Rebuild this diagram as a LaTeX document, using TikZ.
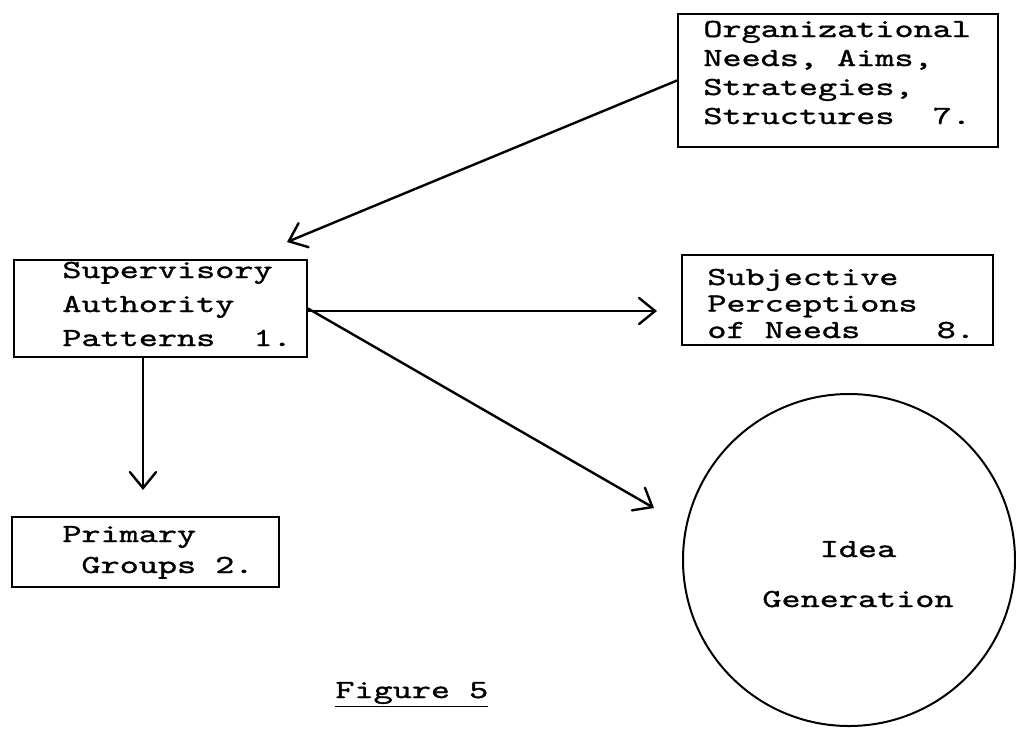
\documentclass[tikz,border=0pt]{standalone}
\usepackage{fontspec}
\usetikzlibrary{arrows.meta}
% wide, slightly heavy typewriter lettering
\newfontfamily\twfont[FakeStretch=1.4,FakeBold=1.2]{lmmono10-regular.otf}
\begin{document}
\begin{tikzpicture}[x=0.5pt,y=-0.5pt,
  box/.style={draw, line width=1pt, rectangle, inner sep=0pt},
  conn/.style={line width=1.2pt, line cap=round,
    -{Straight Barb[length=8pt,width=13pt,line width=1.2pt,line cap=round]}},
  txt/.style={anchor=base west, align=left, inner sep=0pt},
  tt/.style={font=\fontsize{13}{#1}\selectfont\twfont}]
\useasboundingbox (0,0) rectangle (1016,730);

% boxes
\node[box, minimum width=160pt, minimum height=66.5pt] (b7) at (838,80.5) {};
\node[box, minimum width=146.5pt, minimum height=48.5pt] (b1) at (160.5,308.5) {};
\node[box, minimum width=155.5pt, minimum height=45pt] (b8) at (837.5,300) {};
\node[box, minimum width=133.5pt, minimum height=35pt] (b2) at (145.5,552) {};
\node[draw, circle, line width=1pt, minimum size=166pt, inner sep=0pt] (idea) at (849,560) {};

% box texts (anchored at the baseline of the last line)
\node[txt, tt=14.5pt] (t7) at (703,124)
  {Organizational\\Needs, Aims,\\Strategies,\\Structures~~7.};
\node[txt, tt=17pt] (t1) at (62,346)
  {Supervisory\\Authority\\Patterns~~1.};
\node[txt, tt=13.25pt] (t8) at (707,338)
  {Subjective\\Perceptions\\of Needs~~~~8.};
\node[txt, tt=15.5pt] (t2) at (62,573)
  {Primary\\~Groups 2.};
\node[anchor=base, align=center, inner sep=0pt, tt=25pt] (ti) at (858,607)
  {Idea\\Generation};
\node[anchor=base west, inner sep=0pt, tt=17pt] (fig) at (335,698)
  {\underline{Figure 5}};

% free arrow tips
\coordinate (a1) at (287,242);
\coordinate (a8) at (657,311);
\coordinate (a2) at (143,490);
\coordinate (ai) at (654,508);

% connectors
\draw[conn] (b7.west) -- (a1);
\draw[conn] (b1.east |- a8) -- (a8);
\draw[conn] (b1.east) -- (ai);
\draw[conn] (b1.south -| a2) -- (a2);
\end{tikzpicture}
\end{document}
